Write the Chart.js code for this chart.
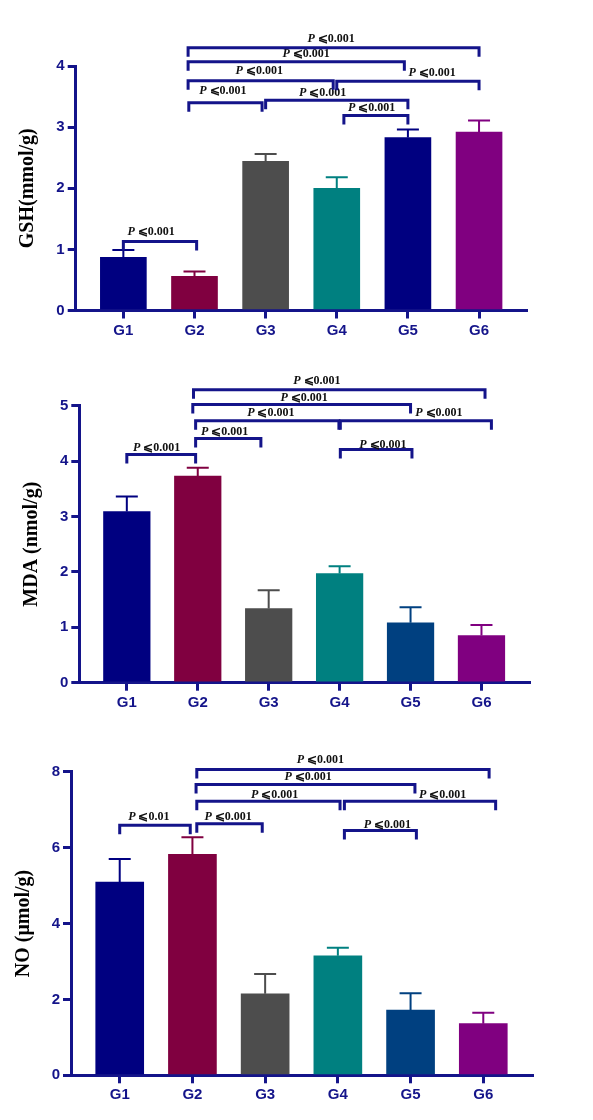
<!DOCTYPE html>
<html>
<head>
<meta charset="utf-8">
<script src="https://cdn.jsdelivr.net/npm/chart.js@4.4.1/dist/chart.umd.min.js"></script>
<style>
  body { margin: 0; background: #fff; }
  .panel { position: absolute; left: 0; width: 593px; }
</style>
</head>
<body>
<div class="panel" style="top:0px"><canvas id="gsh" width="593" height="345"></canvas></div>
<div class="panel" style="top:365px"><canvas id="mda" width="593" height="355"></canvas></div>
<div class="panel" style="top:740px"><canvas id="no" width="593" height="380"></canvas></div>
<script>
const groups = ["G1", "G2", "G3", "G4", "G5", "G6"];

// means and SD (upper error bar)
const gshMean = [0.87, 0.56, 2.44, 2.00, 2.83, 2.92];
const gshSD   = [0.12, 0.08, 0.12, 0.18, 0.13, 0.19];
const mdaMean = [3.09, 3.73, 1.34, 1.97, 1.08, 0.85];
const mdaSD   = [0.27, 0.15, 0.33, 0.13, 0.28, 0.19];
const noMean  = [5.09, 5.82, 2.15, 3.15, 1.72, 1.36];
const noSD    = [0.61, 0.45, 0.52, 0.21, 0.44, 0.29];

const gshTicks = [0, 1, 2, 3, 4];
const mdaTicks = [0, 1, 2, 3, 4, 5];
const noTicks  = [0, 2, 4, 6, 8];

// significance brackets: [from, to, level, label x, label level, text]
const gshPairs = [
  [0.00, 1.03, 1.13, 0.39, 1.29, "0.001"],
  [0.92, 1.95, 3.40, 1.40, 3.59, "0.001"],
  [2.00, 4.00, 3.44, 2.80, 3.56, "0.001"],
  [3.10, 4.00, 3.19, 3.49, 3.31, "0.001"],
  [0.91, 2.95, 3.76, 1.91, 3.92, "0.001"],
  [3.00, 5.00, 3.75, 4.34, 3.89, "0.001"],
  [0.91, 3.95, 4.07, 2.57, 4.19, "0.001"],
  [0.91, 5.00, 4.30, 2.92, 4.44, "0.001"]
];
const mdaPairs = [
  [0.00, 0.97, 4.12, 0.42, 4.23, "0.001"],
  [0.97, 1.89, 4.41, 1.38, 4.53, "0.001"],
  [0.97, 2.99, 4.73, 2.03, 4.87, "0.001"],
  [3.01, 5.14, 4.73, 4.40, 4.87, "0.001"],
  [3.01, 4.02, 4.21, 3.61, 4.30, "0.001"],
  [0.93, 4.00, 5.02, 2.50, 5.14, "0.001"],
  [0.94, 5.05, 5.29, 2.68, 5.44, "0.001"]
];
const noPairs = [
  [0.00, 0.97, 6.59, 0.40, 6.82, "0.01"],
  [1.06, 1.96, 6.63, 1.49, 6.82, "0.001"],
  [1.06, 3.03, 7.22, 2.13, 7.40, "0.001"],
  [3.09, 5.17, 7.22, 4.44, 7.40, "0.001"],
  [3.09, 4.08, 6.45, 3.68, 6.59, "0.001"],
  [1.05, 4.06, 7.66, 2.59, 7.87, "0.001"],
  [1.06, 5.08, 8.06, 2.76, 8.31, "0.001"]
];

const navy = "#14148a";
const colorsA = ["#000080", "#800040", "#4d4d4d", "#008080", "#000080", "#800080"];
const colorsB = ["#000080", "#800040", "#4d4d4d", "#008080", "#004080", "#800080"];

const errorBars = {
  id: "errorBars",
  afterDatasetsDraw(chart, args, opts) {
    const ctx = chart.ctx, y = chart.scales.y;
    const meta = chart.getDatasetMeta(0);
    ctx.save();
    ctx.lineWidth = 2;
    meta.data.forEach((bar, i) => {
      const top = y.getPixelForValue(opts.mean[i] + opts.sd[i]);
      ctx.strokeStyle = opts.colors[i];
      ctx.beginPath();
      ctx.moveTo(bar.x, bar.y);
      ctx.lineTo(bar.x, top);
      ctx.moveTo(bar.x - 11, top);
      ctx.lineTo(bar.x + 11, top);
      ctx.stroke();
    });
    ctx.restore();
  }
};

const brackets = {
  id: "brackets",
  afterDraw(chart, args, opts) {
    const ctx = chart.ctx, x = chart.scales.x, y = chart.scales.y;
    ctx.save();
    ctx.strokeStyle = navy;
    ctx.lineWidth = 3;
    ctx.lineJoin = "miter";
    opts.pairs.forEach(p => {
      const x1 = x.getPixelForValue(p[0]), x2 = x.getPixelForValue(p[1]);
      const yy = y.getPixelForValue(p[2]);
      ctx.beginPath();
      ctx.moveTo(x1, yy + 9);
      ctx.lineTo(x1, yy);
      ctx.lineTo(x2, yy);
      ctx.lineTo(x2, yy + 9);
      ctx.stroke();

      const fP = "italic bold 12px 'Liberation Serif', serif";
      const fT = "bold 12px 'Liberation Serif', 'DejaVu Serif', serif";
      const rest = " \u2A7D" + p[5];
      ctx.font = fP;
      const wP = ctx.measureText("P").width;
      ctx.font = fT;
      const wT = ctx.measureText(rest).width;
      const lx = x.getPixelForValue(p[3]) - (wP + wT) / 2;
      const ly = y.getPixelForValue(p[4]);
      ctx.fillStyle = "#111";
      ctx.textBaseline = "middle";
      ctx.textAlign = "left";
      ctx.font = fP;
      ctx.fillText("P", lx, ly);
      ctx.font = fT;
      ctx.fillText(rest, lx + wP, ly);
    });
    ctx.restore();
  }
};

function makePanel(id, p) {
  const tickFont = { family: "'Liberation Sans', Arial, sans-serif", weight: "bold", size: 15 };
  new Chart(document.getElementById(id), {
    type: "bar",
    data: {
      datasets: [{
        data: p.mean.map((v, i) => ({ x: i, y: v })),
        backgroundColor: p.colors,
        borderWidth: 0,
        barThickness: p.barW
      }]
    },
    options: {
      responsive: false,
      animation: false,
      layout: { padding: p.pad },
      plugins: {
        legend: { display: false },
        tooltip: { enabled: false },
        errorBars: { mean: p.mean, sd: p.sd, colors: p.colors },
        brackets: { pairs: p.pairs }
      },
      scales: {
        x: {
          type: "linear",
          offset: false,
          min: -0.67,
          max: 5.67,
          afterBuildTicks: s => { s.ticks = groups.map((g, i) => ({ value: i })); },
          afterFit: s => { s.height = 30; },
          ticks: {
            callback: v => groups[v],
            color: navy,
            font: tickFont,
            padding: 3,
            autoSkip: false,
            maxRotation: 0
          },
          grid: { offset: false, drawOnChartArea: false, color: navy, lineWidth: 3, tickLength: 8 },
          border: { color: navy, width: 3 }
        },
        y: {
          min: 0,
          max: p.ticks[p.ticks.length - 1],
          afterBuildTicks: s => { s.ticks = p.ticks.map(v => ({ value: v })); },
          afterFit: s => { s.width = p.yWidth; },
          ticks: { color: navy, font: tickFont, padding: 3 },
          grid: { drawOnChartArea: false, color: navy, lineWidth: 3, tickLength: 8 },
          border: { color: navy, width: 3 },
          title: {
            display: true,
            text: p.title,
            color: "#000",
            font: { family: "'Liberation Serif', 'Times New Roman', serif", weight: "bold", size: 20 },
            padding: 0
          }
        }
      }
    },
    plugins: [errorBars, brackets]
  });
}

document.addEventListener("DOMContentLoaded", function () {
  makePanel("gsh", {
    mean: gshMean, sd: gshSD, ticks: gshTicks, pairs: gshPairs, colors: colorsA,
    title: "GSH(mmol/g)", barW: 46, yWidth: 59.7,
    pad: { left: 16, top: 66, right: 66.3, bottom: 4.5 }
  });
  makePanel("mda", {
    mean: mdaMean, sd: mdaSD, ticks: mdaTicks, pairs: mdaPairs, colors: colorsB,
    title: "MDA (nmol/g)", barW: 46.6, yWidth: 59.3,
    pad: { left: 20, top: 40.7, right: 64, bottom: 7.3 }
  });
  makePanel("no", {
    mean: noMean, sd: noSD, ticks: noTicks, pairs: noPairs, colors: colorsB,
    title: "NO (\u03bcmol/g)", barW: 48, yWidth: 59.5,
    pad: { left: 11.5, top: 31.7, right: 61, bottom: 14.7 }
  });
});
</script>
</body>
</html>
